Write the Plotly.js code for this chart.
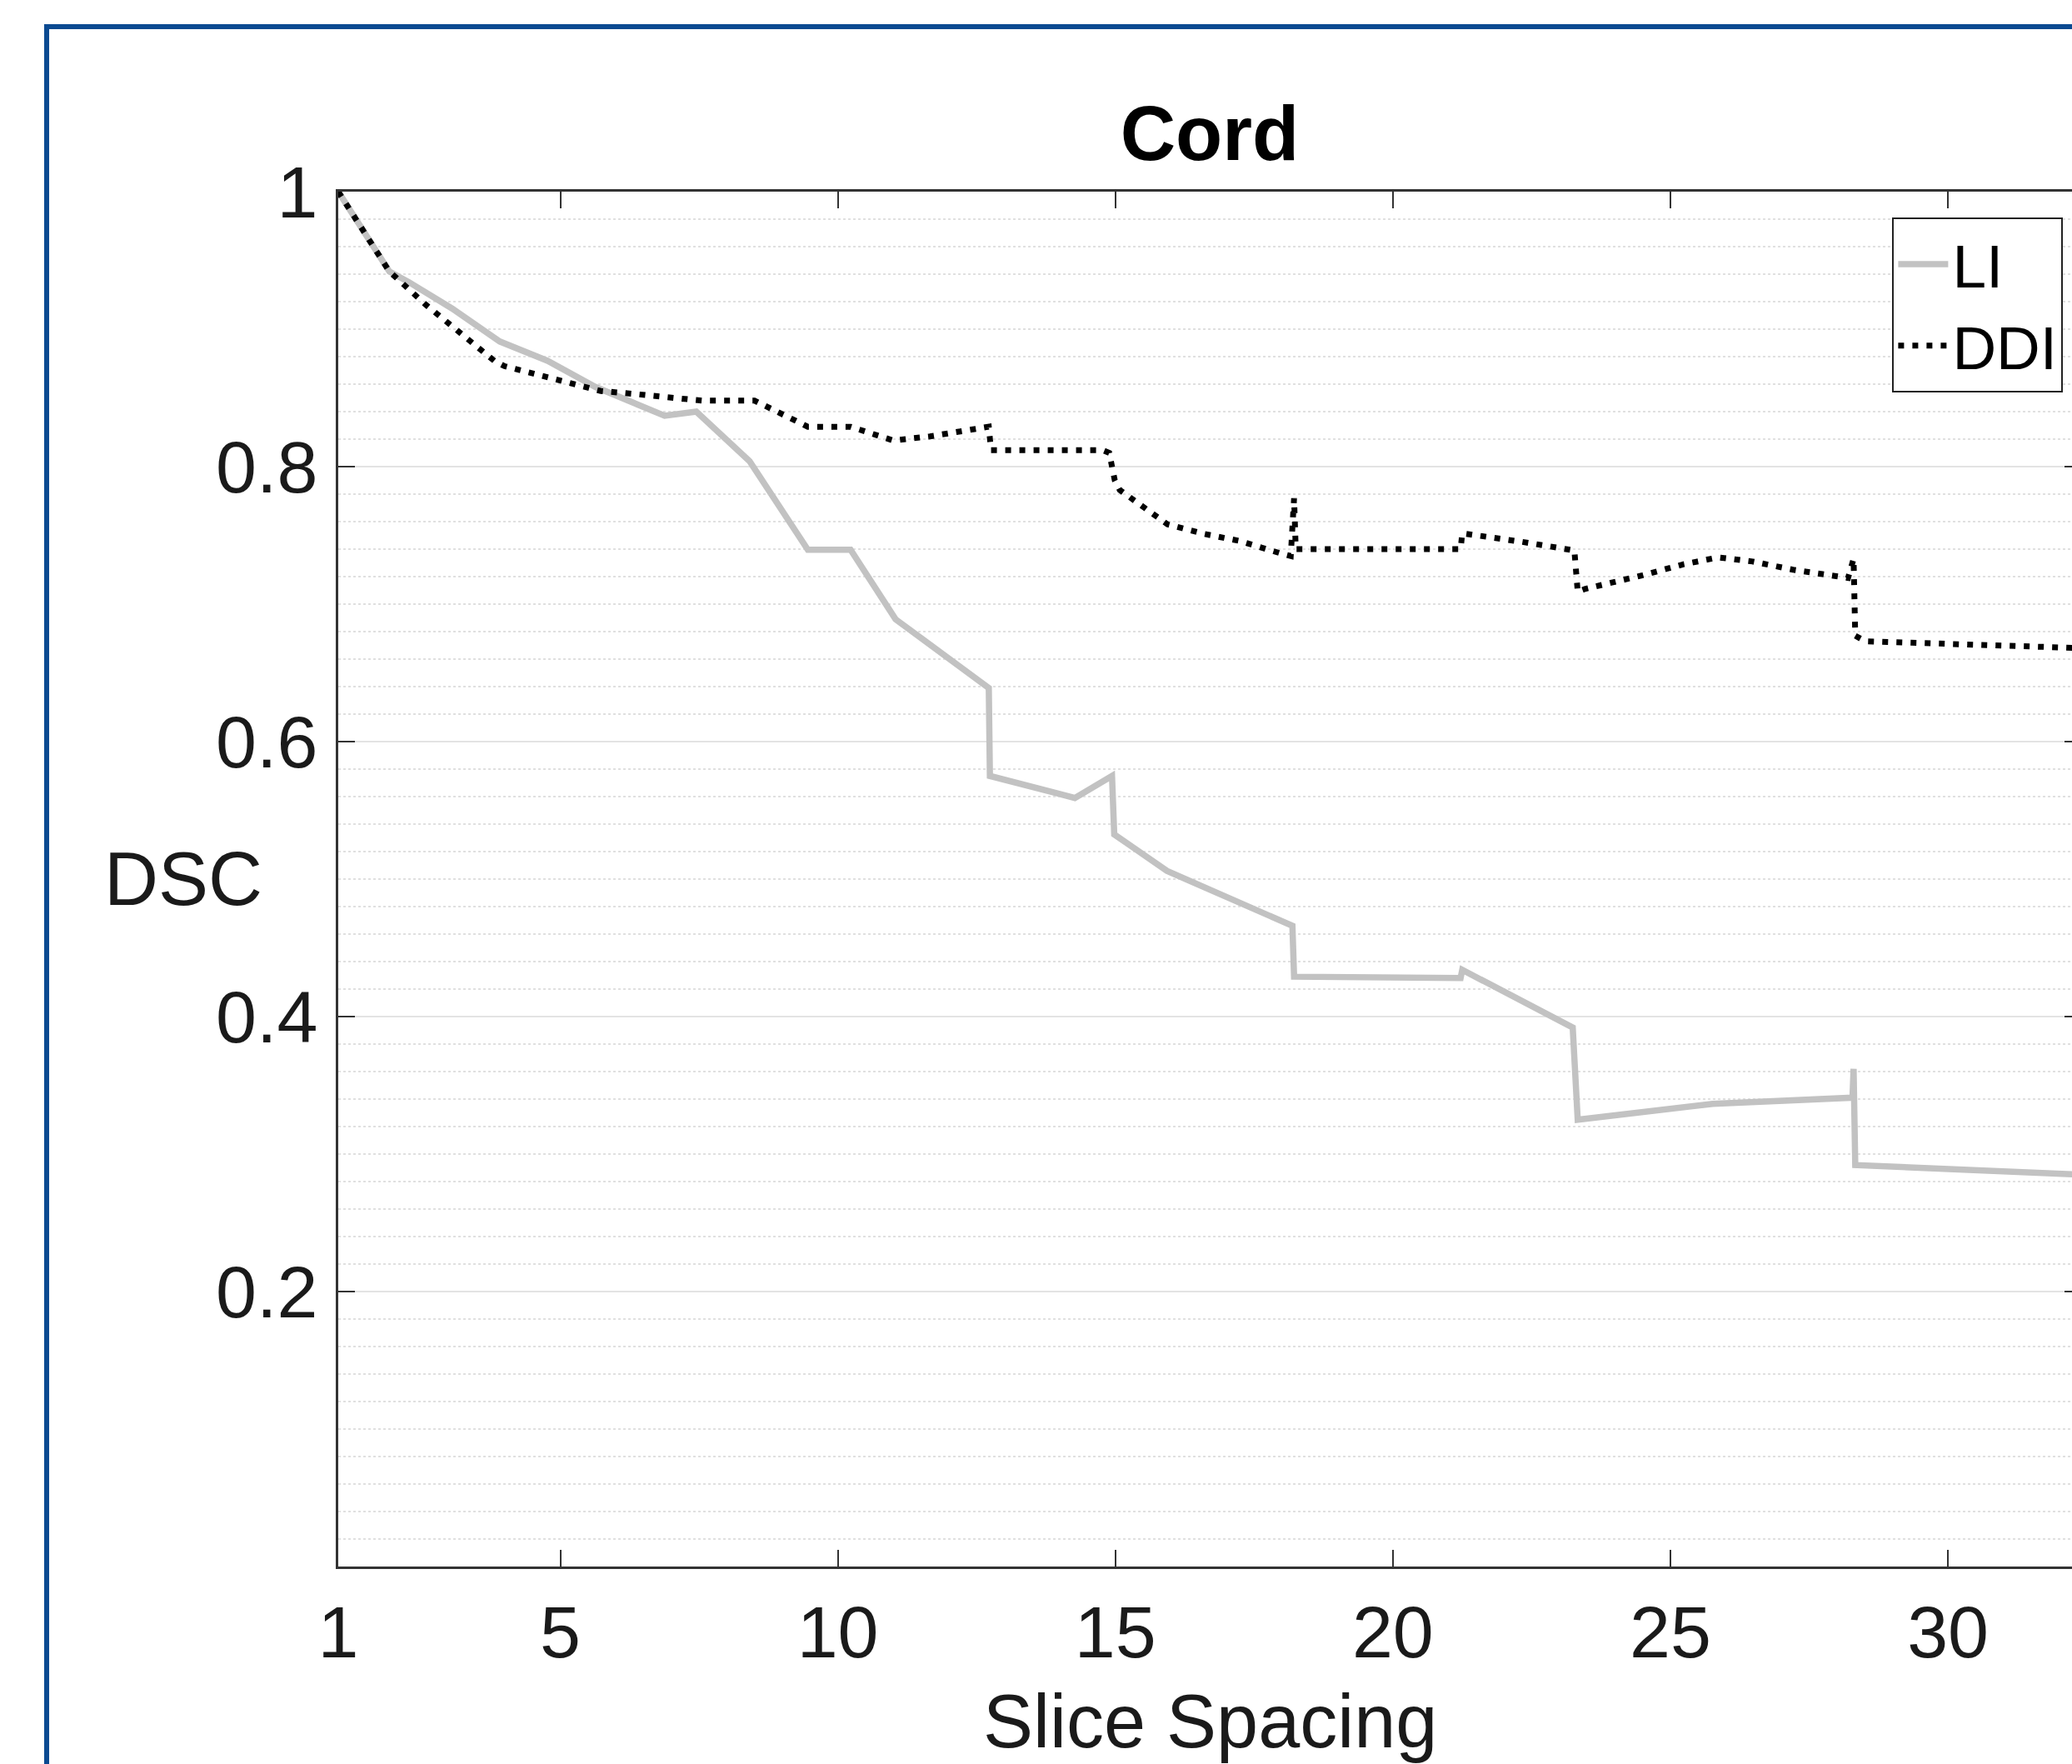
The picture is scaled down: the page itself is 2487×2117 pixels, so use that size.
<!DOCTYPE html>
<html>
<head>
<meta charset="utf-8">
<script src="https://cdn.plot.ly/plotly-3.0.1.min.js"></script>
<style>
  html, body { margin: 0; padding: 0; background: #ffffff; overflow: hidden; }
  #wrap { position: absolute; left: 0; top: 0; width: 2487px; height: 2117px; overflow: hidden; background: #ffffff; }
  #chart { position: absolute; left: 0; top: 0; width: 2600px; height: 2200px; }
  #frame { position: absolute; left: 53px; top: 29px; width: 3000px; height: 3000px;
           border-top: 6px solid #0b4a91; border-left: 6px solid #0b4a91; pointer-events: none; z-index: 5; }
</style>
</head>
<body>
<div id="wrap">
  <div id="chart"></div>
  <div id="frame"></div>
</div>
<script>
// Slice spacing (x) and DSC (y)
const liX  = [1, 1.92, 2.28, 3.05, 3.91, 4.77, 5.63, 6.88, 7.45, 8.41, 9.46, 10.23, 11.04, 12.72, 12.74, 14.27, 14.94, 14.98, 15.93, 18.19, 18.22, 21.22, 21.25, 23.24, 23.33, 25.76, 28.28, 28.30, 28.33, 32.4];
const liY  = [1, 0.942, 0.934, 0.915, 0.891, 0.877, 0.858, 0.837, 0.840, 0.804, 0.7395, 0.7395, 0.689, 0.639, 0.575, 0.559, 0.575, 0.5325, 0.506, 0.466, 0.429, 0.428, 0.434, 0.392, 0.325, 0.3365, 0.341, 0.362, 0.292, 0.285];

const ddiX = [1, 1.92, 2.57, 3.24, 3.81, 4.0, 4.77, 5.73, 6.3, 7.55, 8.5, 9.46, 10.23, 11.0, 11.66, 12.72, 12.76, 14.77, 14.89, 14.99, 15.08, 15.51, 15.94, 16.61, 17.23, 17.97, 18.16, 18.22, 18.25, 21.22, 21.25, 22.29, 23.27, 23.33, 23.46, 24.5, 25.24, 25.86, 26.48, 27.21, 28.2, 28.3, 28.33, 28.51, 32.4];
const ddiY = [1, 0.942, 0.918, 0.896, 0.877, 0.873, 0.865, 0.855, 0.853, 0.848, 0.848, 0.829, 0.829, 0.819, 0.822, 0.829, 0.812, 0.812, 0.810, 0.790, 0.783, 0.770, 0.758, 0.751, 0.746, 0.737, 0.735, 0.777, 0.740, 0.740, 0.7515, 0.7455, 0.739, 0.709, 0.711, 0.721, 0.729, 0.734, 0.731, 0.725, 0.719, 0.733, 0.677, 0.673, 0.668];

const seriesNames = ["LI", "DDI"];
const xTickVals = [1, 5, 10, 15, 20, 25, 30, 35];
const xTickText = ["1", "5", "10", "15", "20", "25", "30", "35"];
const yTickVals = [0.2, 0.4, 0.6, 0.8, 1.0];
const yTickText = ["0.2", "0.4", "0.6", "0.8", "1"];

const chartTitle = "Cord";
const xTitle = "Slice Spacing";
const yTitle = "DSC";

const FONT = "Liberation Sans, Arial, Helvetica, sans-serif";
const W = 2600, H = 2200;
const plotLeft = 406, plotTop = 230, plotRight = 2497.6, plotBottom = 1880;

const traces = [
  {
    x: liX, y: liY, name: seriesNames[0], type: "scatter", mode: "lines",
    line: { color: "#c2c2c2", width: 7.5 }
  },
  {
    x: ddiX, y: ddiY, name: seriesNames[1], type: "scatter", mode: "lines",
    line: { color: "#000000", width: 7, dash: "7px,10px" }
  }
];

const axisColor = "#333333";
const layout = {
  width: W, height: H,
  margin: { l: plotLeft, t: plotTop, r: W - plotRight, b: H - plotBottom, pad: 0 },
  paper_bgcolor: "#ffffff",
  plot_bgcolor: "#ffffff",
  showlegend: true,
  font: { family: FONT, color: "#1a1a1a" },
  title: {
    text: chartTitle,
    x: 0.5, xref: "paper", xanchor: "center",
    y: 1 - 160 / H, yref: "container", yanchor: "middle",
    font: { family: FONT, size: 92, weight: "bold", color: "#000000" }
  },
  xaxis: {
    range: [1, 32.4],
    tickmode: "array", tickvals: xTickVals, ticktext: xTickText,
    ticks: "inside", ticklen: 20, tickwidth: 2, tickcolor: axisColor,
    showline: true, linecolor: axisColor, linewidth: 3, mirror: "ticks",
    showgrid: false, zeroline: false,
    tickfont: { family: FONT, size: 88, color: "#1a1a1a" },
    ticklabelstandoff: 0
  },
  yaxis: {
    range: [0, 1],
    tickmode: "array", tickvals: yTickVals, ticktext: yTickText,
    ticks: "inside", ticklen: 20, tickwidth: 2, tickcolor: axisColor,
    showline: true, linecolor: axisColor, linewidth: 3, mirror: "ticks",
    showgrid: true, gridcolor: "#e3e3e3", gridwidth: 2,
    zeroline: false,
    minor: { dtick: 0.02, tick0: 0, showgrid: true, gridcolor: "#e0e0e0", griddash: "dot", gridwidth: 2, ticks: "" },
    tickfont: { family: FONT, size: 88, color: "#1a1a1a" },
    ticklabelstandoff: 4
  },
  legend: {
    x: (2476 - plotLeft) / (plotRight - plotLeft), xanchor: "right",
    y: (plotBottom - 261) / (plotBottom - plotTop), yanchor: "top",
    bgcolor: "#ffffff", bordercolor: "#222222", borderwidth: 2,
    font: { family: FONT, size: 73, color: "#000000" },
    itemwidth: 60, tracegroupgap: 0
  },
  annotations: [
    {
      text: yTitle, xref: "paper", yref: "paper",
      x: (317 - plotLeft) / (plotRight - plotLeft), y: 0.5,
      xanchor: "right", yanchor: "middle", showarrow: false,
      font: { family: FONT, size: 90, color: "#1a1a1a" }
    },
    {
      text: xTitle, xref: "paper", yref: "paper",
      x: 0.5, y: (plotBottom - 2066) / (plotBottom - plotTop),
      xanchor: "center", yanchor: "middle", showarrow: false,
      font: { family: FONT, size: 90, color: "#1a1a1a" }
    }
  ]
};

Plotly.newPlot("chart", traces, layout, { displayModeBar: false, staticPlot: true });
</script>
</body>
</html>
